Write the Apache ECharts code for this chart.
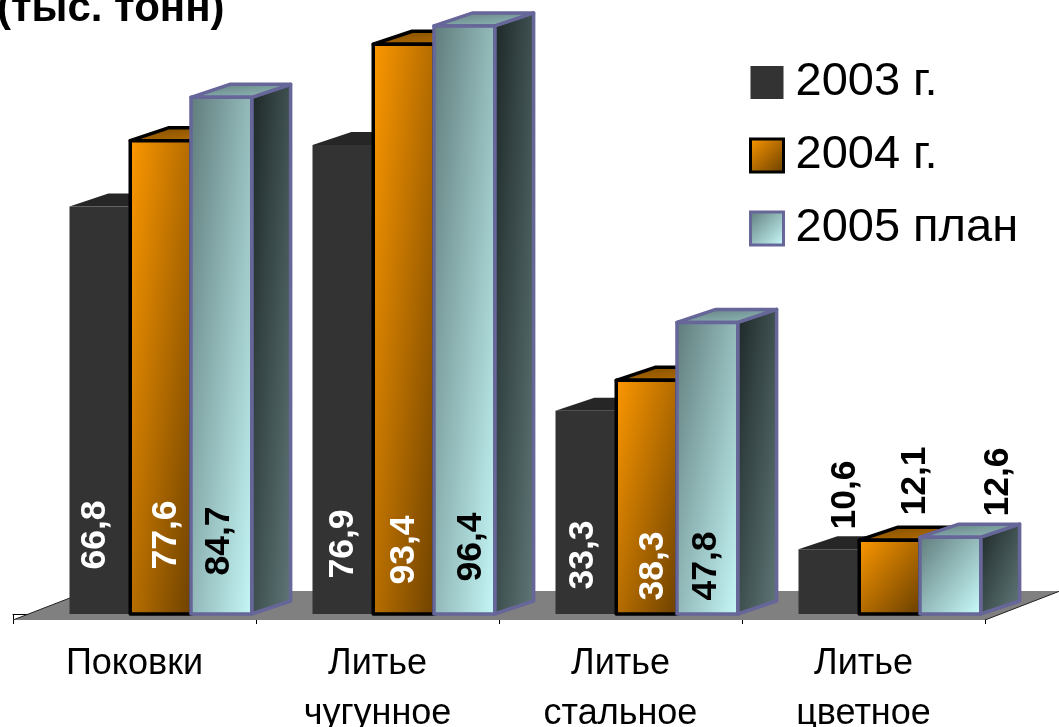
<!DOCTYPE html>
<html>
<head>
<meta charset="utf-8">
<title>Поковки и литье</title>
<script src="https://cdn.jsdelivr.net/npm/echarts@6/dist/echarts.min.js"></script>
<style>
    html, body { margin: 0; padding: 0; background: #fff; overflow: hidden; }
    #chart { width: 1059px; height: 727px; }
</style>
</head>
<body>
<div id="chart"></div>
<script>
const categories = ['Поковки', 'Литье\nчугунное', 'Литье\nстальное', 'Литье\nцветное'];
const years = ['2003 г.', '2004 г.', '2005 план'];
const values2003 = [66.8, 76.9, 33.3, 10.6];
const values2004 = [77.6, 93.4, 38.3, 12.1];
const values2005 = [84.7, 96.4, 47.8, 12.6];

const FONT = '"Liberation Sans", Arial, sans-serif';

// label centre relative to the bar: [dx from bar centre, rise above the base]
const labelPlace = [
    [[-5, 79], [0, 70], [-3, 59], [16, 119]],
    [[6, 79], [1, 64], [7, 48], [26, 133]],
    [[-2, 73], [7, 67], [-1, 48], [48, 132]]
];
const labelColors = [
    ['#fff', '#fff', '#fff', '#000'],
    ['#fff', '#fff', '#fff', '#000'],
    ['#000', '#000', '#000', '#000']
];

// PowerPoint style gradient: iso-lines run along the box's other diagonal
const skew = (w, h, from, to) => ({
    type: 'linear',
    x: 0,
    y: 0,
    x2: 2 / (1 + (w * w) / (h * h)),
    y2: 2 / (1 + (h * h) / (w * w)),
    colorStops: [{ offset: 0, color: from }, { offset: 1, color: to }]
});

const looks = [
    {
        border: null, borderWidth: 0,
        front: () => '#333333',
        side: () => '#1f1f1f',
        top: () => '#262626'
    },
    {
        border: '#000', borderWidth: 3.5,
        front: (w, h) => skew(w, h, '#ff9900', '#663d00'),
        side: (w, h) => skew(w, h, '#804d00', '#332000'),
        top: (w, h) => skew(w, h, '#7a4a00', '#cc7a00')
    },
    {
        border: '#666699', borderWidth: 3.5,
        front: (w, h) => skew(w, h, '#5f7a7a', '#ccffff'),
        side: (w, h) => skew(w, h, '#1c2626', '#667f7f'),
        top: (w, h) => skew(w, h, '#5f7a7a', '#a3d0d0')
    }
];

const renderBar = (seriesIdx) => (params, api) => {
    const look = looks[seriesIdx];
    const cat = api.value(0);
    const val = api.value(1);
    const band = api.size([1, 0])[0];
    const base = api.coord([cat, 0]);
    const top = api.coord([cat, val]);
    const w = band * 0.25;
    const x0 = base[0] - band * 0.2675 + seriesIdx * w;
    const x1 = x0 + w;
    const h = base[1] - top[1];
    const dx = band * 0.16;
    const dy = 13;
    const line = {
        stroke: look.border,
        lineWidth: look.borderWidth,
        lineJoin: 'round'
    };
    const place = labelPlace[seriesIdx][cat];
    return {
        type: 'group',
        children: [
            {
                type: 'polygon',
                shape: { points: [[x1, top[1]], [x1 + dx, top[1] - dy], [x1 + dx, base[1] - dy], [x1, base[1]]] },
                style: { fill: look.side(dx, h + dy), ...line }
            },
            {
                type: 'polygon',
                shape: { points: [[x0, top[1]], [x0 + dx, top[1] - dy], [x1 + dx, top[1] - dy], [x1, top[1]]] },
                style: { fill: look.top(w + dx, dy), ...line }
            },
            {
                type: 'rect',
                shape: { x: x0, y: top[1], width: w, height: h },
                style: { fill: look.front(w, h), ...line }
            },
            {
                type: 'text',
                x: x0 + w / 2 + place[0],
                y: base[1] - place[1],
                rotation: Math.PI / 2,
                z2: 10,
                style: {
                    text: String(val).replace('.', ','),
                    font: 'bold 35.5px ' + FONT,
                    fill: labelColors[seriesIdx][cat],
                    align: 'center',
                    verticalAlign: 'middle'
                }
            }
        ]
    };
};

const renderFloor = (params, api) => {
    const g = params.coordSys;
    const front = g.y + g.height + 6;
    const back = front - 29;
    const shift = 75;
    const left = g.x;
    const right = g.x + g.width;
    return {
        type: 'group',
        children: [
            {
                type: 'polygon',
                shape: { points: [[left, front], [right, front], [right + shift, back], [left + shift, back]] },
                style: { fill: '#808080' }
            },
            {
                type: 'polyline',
                shape: { points: [[left + shift, back], [left, front]] },
                style: { stroke: '#222', lineWidth: 1, fill: null }
            },
            {
                type: 'polyline',
                shape: { points: [[right + shift, back], [right, front]] },
                style: { stroke: '#222', lineWidth: 1, fill: null }
            }
        ]
    };
};

const toPoints = (values) => values.map((v, i) => [i, v]);

const chart = echarts.init(document.getElementById('chart'));
chart.setOption({
    animation: false,
    backgroundColor: '#fff',
    title: {
        text: '(тыс. тонн)',
        left: -3,
        top: -12,
        padding: 0,
        textStyle: { fontFamily: FONT, fontSize: 42, fontWeight: 'bold', color: '#000' }
    },
    legend: {
        orient: 'vertical',
        left: 749,
        top: 59,
        padding: 0,
        itemWidth: 33,
        itemHeight: 33,
        itemGap: 26,
        selectedMode: false,
        textStyle: { fontFamily: FONT, fontSize: 47, color: '#000', padding: [0, 0, 0, 7] },
        data: [
            { name: years[0], icon: 'rect', itemStyle: { color: '#333333' } },
            { name: years[1], icon: 'rect', itemStyle: { color: skew(1, 1, '#ff9900', '#663d00'), borderColor: '#000', borderWidth: 3 } },
            { name: years[2], icon: 'rect', itemStyle: { color: skew(1, 1, '#5f7a7a', '#ccffff'), borderColor: '#666699', borderWidth: 3 } }
        ]
    },
    grid: { left: 13, right: 74, top: 4, bottom: 113, outerBoundsMode: 'none' },
    xAxis: {
        type: 'category',
        data: categories,
        offset: 6.5,
        axisLine: { lineStyle: { color: '#000', width: 1 } },
        axisTick: { show: true, length: 10, lineStyle: { color: '#000', width: 1 } },
        axisLabel: {
            interval: 0,
            margin: 19,
            fontFamily: FONT,
            fontSize: 36,
            lineHeight: 50,
            color: '#000'
        }
    },
    yAxis: { type: 'value', min: 0, max: 100, show: false, splitLine: { show: false } },
    series: [
        { type: 'custom', name: 'floor', data: [[0, 0]], renderItem: renderFloor, silent: true, z: 1 },
        { type: 'custom', name: years[0], data: toPoints(values2003), renderItem: renderBar(0), z: 2 },
        { type: 'custom', name: years[1], data: toPoints(values2004), renderItem: renderBar(1), z: 3 },
        { type: 'custom', name: years[2], data: toPoints(values2005), renderItem: renderBar(2), z: 4 }
    ]
});
</script>
</body>
</html>
